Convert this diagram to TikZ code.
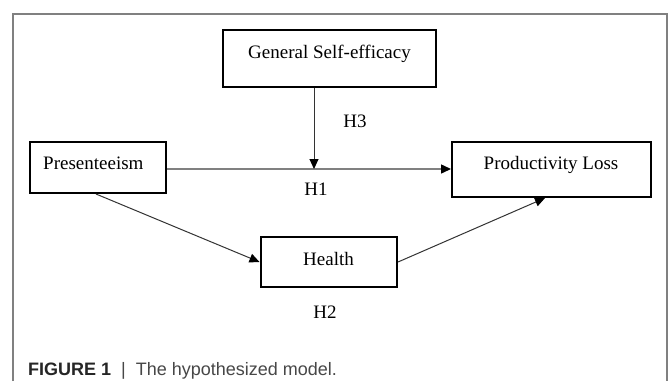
\documentclass[tikz,border=0pt]{standalone}
\usepackage{fontspec}
\setmainfont{Liberation Serif}
\newfontfamily\capfont{Liberation Sans}
\usetikzlibrary{arrows.meta}
\begin{document}
\begin{tikzpicture}[x=1pt,y=-1pt,
  box/.style={draw=black, line width=2pt, inner sep=0pt},
  txt/.style={inner sep=0pt, anchor=base, font=\fontsize{19}{19}\selectfont},
  conn/.style={draw=black!80, line width=1pt, -{Triangle[length=10pt,width=9pt,color=black]}},
  mainconn/.style={conn, draw=black!50, line width=1.5pt},
  frame/.style={draw=black!50, line width=1.3pt}]
\useasboundingbox (0,0) rectangle (668,381);
\fill[white] (0,0) rectangle (668,381);
\draw[frame] (13,381) -- (13,14) -- (667,14) -- (667,381);

% boxes
\node[box, minimum width=213pt, minimum height=57pt] (gse) at (329.5,58.5) {};
\node[box, minimum width=136pt, minimum height=51pt] (pres) at (98,167.5) {};
\node[box, minimum width=199pt, minimum height=55pt] (pl) at (551.5,169.5) {};
\node[box, minimum width=136.5pt, minimum height=50pt] (health) at (328.75,262) {};

% box texts
\node[txt] (gse-t) at (329.5,58) {General Self-efficacy};
\node[txt, anchor=base west] (pres-t) at (43,169) {Presenteeism};
\node[txt] (pl-t) at (551,169) {Productivity Loss};
\node[txt] (health-t) at (328.5,265) {Health};

% hypothesis labels
\node[txt] (h3) at (355,127) {H3};
\node[txt] (h1) at (316,195) {H1};
\node[txt] (h2) at (325,318) {H2};

% connectors
\coordinate (j) at (314,169);
\draw[mainconn] ([yshift=-1.5pt]pres.east) -- ([yshift=-1.5pt]pres.east -| pl.west);
\draw[conn] (gse.south -| j) -- (j);
\draw[conn] ([xshift=-2pt]pres.south) -- (health.west);
\draw[conn] (health.east) -- ([xshift=-6.5pt]pl.south);

% caption
\node[anchor=base west, inner sep=0pt, font=\capfont\fontsize{18}{18}\selectfont, text=black!72] (cap) at (28,375)
  {\textcolor{black!85}{\textbf{FIGURE 1}}\hspace{10pt}|\hspace{10pt}The hypothesized model.};
\end{tikzpicture}
\end{document}
